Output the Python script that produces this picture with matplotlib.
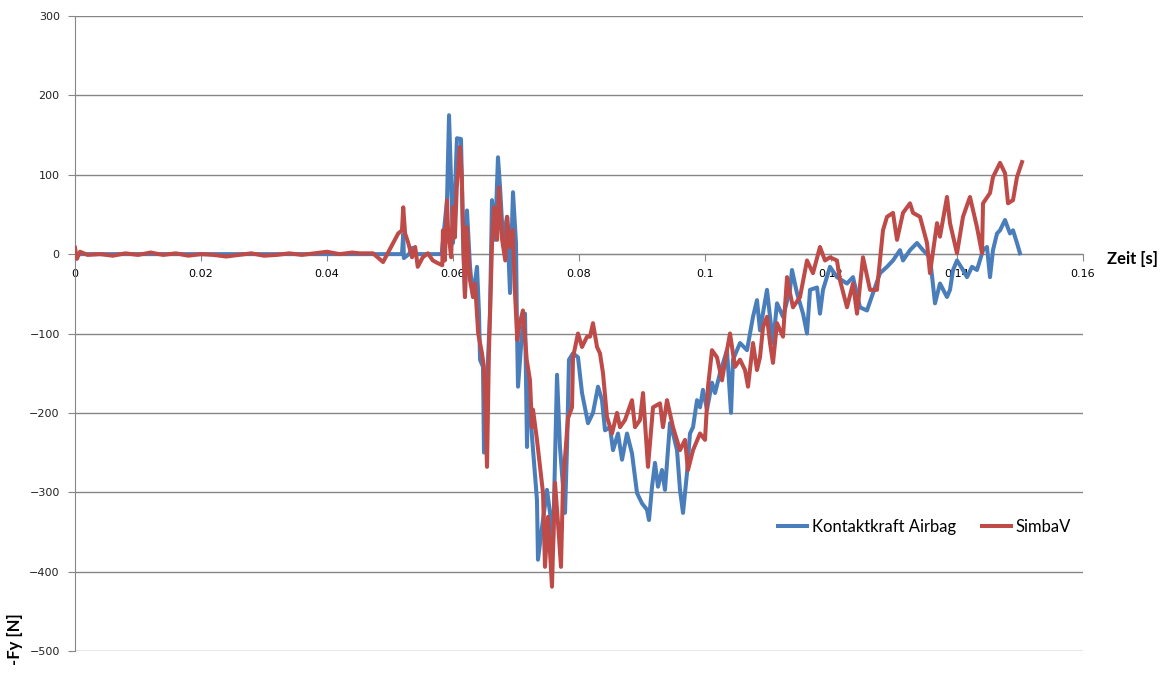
import matplotlib
matplotlib.use("Agg")
import matplotlib.pyplot as plt

# Kontaktkraft Airbag (blue)
t_airbag = [0.0, 0.0519, 0.0521, 0.0522, 0.0530, 0.0536, 0.0538, 0.0582,
            0.05905, 0.05937, 0.0600, 0.06063, 0.06127, 0.06159, 0.0619, 0.06222,
            0.0627, 0.06317, 0.06381, 0.06413, 0.06429, 0.06476, 0.06492, 0.06587,
            0.06619, 0.06667, 0.06714, 0.06746, 0.06794, 0.06857, 0.06905, 0.06952,
            0.0700, 0.07016, 0.07032, 0.07095, 0.07143, 0.07175, 0.0719, 0.07254,
            0.07333, 0.07349, 0.07413, 0.07492, 0.0754, 0.07587, 0.07651, 0.07698,
            0.07778, 0.0781, 0.07841, 0.07905, 0.07984, 0.08048, 0.08143, 0.08222,
            0.08302, 0.08365, 0.08413, 0.08492, 0.0854, 0.08619, 0.08683, 0.08762,
            0.08841, 0.08921, 0.0900, 0.09079, 0.09111, 0.09159, 0.09206, 0.09254,
            0.09317, 0.09365, 0.09444, 0.09492, 0.09556, 0.09603, 0.09651, 0.09714,
            0.09762, 0.0981, 0.09873, 0.09921, 0.09968, 0.10032, 0.10111, 0.10159,
            0.10238, 0.10349, 0.10413, 0.10444, 0.10556, 0.10667, 0.10762, 0.10825,
            0.10873, 0.10984, 0.11079, 0.11143, 0.11238, 0.11349, 0.11381, 0.1146,
            0.11556, 0.11619, 0.11667, 0.11778, 0.11825, 0.11873, 0.11984, 0.12095,
            0.12254, 0.12349, 0.1246, 0.12571, 0.12667, 0.12778, 0.12889, 0.12984,
            0.13095, 0.13143, 0.13254, 0.13365, 0.1346, 0.13571, 0.13651, 0.1373,
            0.13841, 0.13889, 0.13937, 0.1400, 0.14095, 0.14159, 0.14238, 0.14317,
            0.14413, 0.14476, 0.14524, 0.14571, 0.14635, 0.14683, 0.14762, 0.14841,
            0.14889, 0.14952, 0.1500]
f_airbag = [0, 0, 25, -5, 0, 8, 0, 0,
            68, 175, 14, 146, 145, 26, -54, 55,
            -16, -54, -16, -75, -133, -142, -250, -75,
            68, 18, 122, 85, 18, 47, -49, 78,
            14, -96, -167, -100, -75, -243, -150, -230,
            -310, -385, -344, -297, -326, -369, -152, -243,
            -326, -243, -133, -125, -130, -175, -213, -200,
            -167, -184, -222, -218, -247, -226, -259, -226,
            -251, -301, -314, -322, -335, -293, -263, -293,
            -272, -297, -213, -226, -247, -297, -326, -276,
            -226, -218, -184, -193, -171, -196, -162, -175,
            -150, -121, -200, -133, -112, -121, -79, -58,
            -96, -45, -112, -62, -79, -45, -20, -49,
            -75, -100, -45, -42, -75, -45, -16, -29,
            -37, -29, -67, -71, -49, -24, -16, -8,
            5, -8, 5, 14, 5, -4, -62, -37,
            -54, -45, -20, -8, -20, -29, -16, -20,
            5, 9, -29, 5, 26, 30, 43, 26,
            30, 14, 1]

# SimbaV (red)
t_simba = [0.0, 0.0003, 0.0008, 0.002, 0.004, 0.006, 0.008, 0.010, 0.012, 0.014,
           0.016, 0.018, 0.020, 0.022, 0.024, 0.026, 0.028, 0.030, 0.032, 0.034,
           0.036, 0.038, 0.040, 0.042, 0.044, 0.0452, 0.0473, 0.0489, 0.0505, 0.0513,
           0.0519, 0.0521, 0.0524, 0.0529, 0.0535, 0.0540, 0.0544, 0.0552, 0.0560,
           0.0568, 0.0575, 0.0583, 0.0584, 0.0587, 0.05905, 0.0592, 0.0597, 0.0600,
           0.0603, 0.0606, 0.0611, 0.0614, 0.0616, 0.0619, 0.0622, 0.0627, 0.0632,
           0.0635, 0.0640, 0.0646, 0.0649, 0.0654, 0.0657, 0.0662, 0.0665, 0.0670,
           0.0673, 0.0678, 0.0683, 0.0686, 0.0690, 0.0695, 0.0698, 0.0702, 0.0706,
           0.0711, 0.0717, 0.07222, 0.07254, 0.0727, 0.07333, 0.07381, 0.07429,
           0.0746, 0.07508, 0.07571, 0.07619, 0.07667, 0.07714, 0.07746, 0.07825,
           0.07889, 0.07905, 0.07984, 0.08048, 0.08127, 0.08175, 0.08222, 0.08286,
           0.08333, 0.08381, 0.08444, 0.08524, 0.08603, 0.08651, 0.0873, 0.08841,
           0.08889, 0.08968, 0.09016, 0.09095, 0.09175, 0.09286, 0.09333, 0.09397,
           0.09492, 0.09603, 0.09683, 0.0973, 0.0981, 0.09921, 0.1000, 0.10048,
           0.10111, 0.1019, 0.1027, 0.10349, 0.10397, 0.10476, 0.10556, 0.10635,
           0.10683, 0.10762, 0.10825, 0.10873, 0.10921, 0.10984, 0.11032, 0.11079,
           0.11143, 0.11238, 0.11302, 0.11349, 0.11397, 0.11508, 0.11619, 0.11714,
           0.11825, 0.11905, 0.11984, 0.12095, 0.12143, 0.12254, 0.12349, 0.12413,
           0.12508, 0.12619, 0.1273, 0.12825, 0.12889, 0.12984, 0.13048, 0.13143,
           0.13254, 0.13302, 0.13413, 0.13524, 0.13571, 0.13683, 0.1373, 0.13841,
           0.13889, 0.1400, 0.14095, 0.14206, 0.14317, 0.14397, 0.14413, 0.14524,
           0.14571, 0.14683, 0.14762, 0.1481, 0.14889, 0.14952, 0.15032]
f_simba = [8, -6, 3, -1, 0, -2, 1, -1, 2, -1,
           1, -2, 0, -1, -3, -1, 1, -2, -1, 1,
           -1, 1, 3, 0, 2, 1, 1, -10, 14, 26,
           30, 59, 26, 14, -4, 9, -16, -4, 1,
           -8, -11, -14, 30, -8, 68, 34, -4, 59,
           21, 84, 135, 97, 18, -54, 34, -33, -54,
           -37, -100, -125, -142, -268, -125, 14, 59, 18,
           84, 18, -8, 47, 9, 30, -42, -108, -87,
           -71, -133, -159, -218, -196, -234, -268, -301,
           -394, -331, -419, -288, -339, -394, -290, -207,
           -193, -130, -100, -117, -104, -104, -87, -117,
           -125, -150, -205, -226, -200, -218, -209, -184,
           -218, -209, -175, -268, -193, -188, -218, -184,
           -218, -247, -234, -272, -247, -226, -234, -167,
           -121, -130, -159, -121, -100, -142, -133, -146,
           -167, -112, -146, -130, -92, -79, -112, -137,
           -87, -104, -29, -49, -67, -54, -8, -24,
           9, -8, -4, -8, -33, -67, -37, -75,
           -4, -45, -45, 30, 47, 52, 18, 52,
           64, 52, 47, 14, -24, 39, 22, 72,
           39, 1, 47, 72, 34, 1, 64, 77,
           97, 115, 102, 64, 68, 97, 116]

x_ticks = [0, 0.02, 0.04, 0.06, 0.08, 0.1, 0.12, 0.14, 0.16]
x_labels = ["0", "0.02", "0.04", "0.06", "0.08", "0.1", "0.12", "0.14", "0.16"]
y_ticks = [300, 200, 100, 0, -100, -200, -300, -400, -500]

fig = plt.figure(figsize=(11.74, 6.76), dpi=100)
ax = fig.add_axes([75 / 1174, 25 / 676, 1008 / 1174, 635 / 676])

ax.plot(t_airbag, f_airbag, color="#4A7EBB", lw=2.9, label="Kontaktkraft Airbag", zorder=3)
ax.plot(t_simba, f_simba, color="#BE4B48", lw=2.9, label="SimbaV", zorder=4)

ax.set_xlim(0, 0.16)
ax.set_ylim(-500, 300)
ax.set_yticks(y_ticks)
ax.set_xticks(x_ticks)
ax.set_xticklabels(x_labels)
ax.grid(axis="y", color="#868686", lw=1)
ax.set_axisbelow(True)

for s in ["top", "right"]:
    ax.spines[s].set_visible(False)
ax.spines["left"].set_color("#868686")
ax.spines["bottom"].set_color("#868686")
ax.spines["bottom"].set_position(("data", 0))
ax.tick_params(axis="y", length=5, color="#868686", labelsize=8, pad=6, labelcolor="#222222")
ax.tick_params(axis="x", direction="out", length=5, color="#868686", labelsize=8, pad=6)

ax.text(1.024, 0.617, "Zeit [s]", transform=ax.transAxes, fontsize=12, fontweight="bold",
        family="Lato", va="center", ha="left")
fig.text(0.013, 0.055, "-Fy [N]", rotation=90, fontsize=12, fontweight="bold",
         family="Lato", va="center", ha="center")

ax.legend(loc="center", bbox_to_anchor=(0.843, 0.195), ncol=2, frameon=False,
          prop={"family": "Lato", "size": 12}, handlelength=1.7, columnspacing=1.6,
          handletextpad=0.3)

fig.savefig("out.png", dpi=100)
